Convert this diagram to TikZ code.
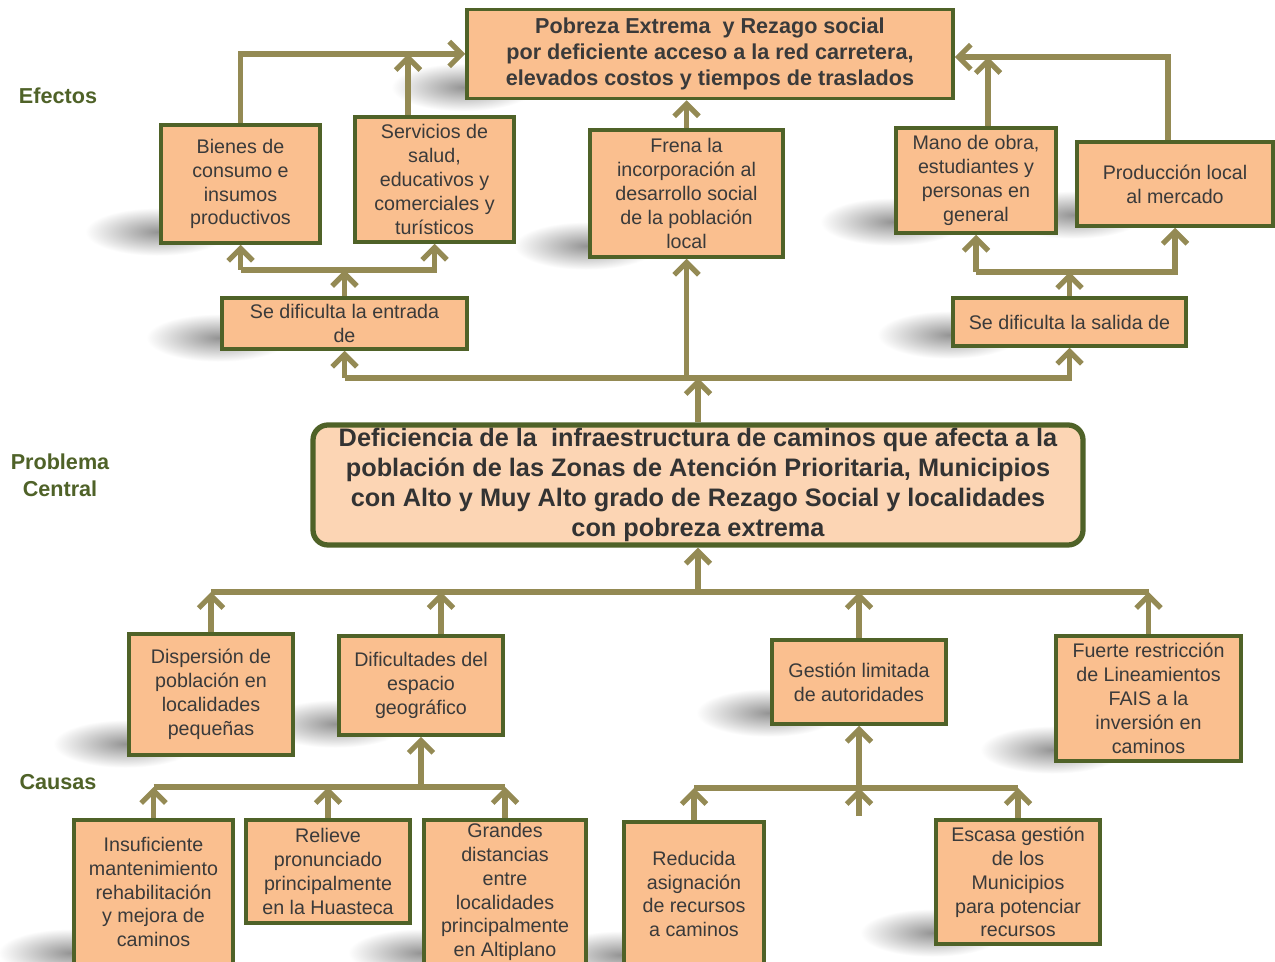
\documentclass[tikz,border=0pt]{standalone}
\usepackage{fontspec}
\setmainfont{Liberation Sans}
\usepackage{tikz}
\usetikzlibrary{arrows.meta,positioning,calc,backgrounds}
\definecolor{peach}{HTML}{FABF8F}
\definecolor{lpeach}{HTML}{FCD5B4}
\definecolor{dgreen}{HTML}{4F6228}
\definecolor{olivear}{HTML}{948A54}
\definecolor{txt}{HTML}{3A3A3A}

\begin{document}
\begin{tikzpicture}[x=0.02cm,y=-0.02cm,>={Straight Barb[length=7pt,width=14pt]},
  b/.style={draw=dgreen,line width=2pt,fill=peach,align=center,text=txt,inner sep=0pt,
    font=\fontsize{11.2}{13.6}\selectfont},
  sz/.style 2 args={minimum width=#1*0.02cm,minimum height=#2*0.02cm},
  ln/.style={draw=olivear,line width=3pt},
  ar/.style={ln,->},
  shd/.style={inner color=black!42,outer color=white},
  lab/.style={text=dgreen,font=\bfseries\fontsize{12.3}{15.5}\selectfont,align=center}]
  \useasboundingbox (0,0) rectangle (1275,962);
  % side labels
  \node[lab](lefe) at (58,96){Efectos};
  \node[lab](lpro) at (60,475){Problema\\Central};
  \node[lab](lcau) at (58,782){Causas};
  % effects
  \node[b,sz={486}{89},font=\bfseries\fontsize{12.3}{15}\selectfont](pob) at (710,54)
    {Pobreza Extrema\ \ y Rezago social\\por deficiente acceso a la red carretera,\\elevados costos y tiempos de traslados};
  \node[b,sz={159}{118}](bien) at (240.5,184){Bienes de\\consumo e\\insumos\\productivos};
  \node[b,sz={159}{125}](serv) at (434.5,179.5){Servicios de\\salud,\\educativos y\\comerciales y\\turísticos};
  \node[b,sz={193}{127}](frena) at (686.5,193.5){Frena la\\incorporación al\\desarrollo social\\de la población\\local};
  \node[b,sz={160}{105}](mano) at (976,180.5){Mano de obra,\\estudiantes y\\personas en\\general};
  \node[b,sz={196}{84}](prod) at (1175,184){Producción local\\al mercado};
  \node[b,sz={245}{51}](ent) at (344.5,323.5){Se dificulta la entrada\\de};
  \node[b,sz={233}{48}](sal) at (1069.5,322){Se dificulta la salida de};
  % central problem
  \node[b,sz={770}{120},fill=lpeach,line width=3pt,rounded corners=0.3cm,text=black!80,
    font=\bfseries\fontsize{14.4}{17.2}\selectfont](cen) at (698,485)
    {Deficiencia de la\ \ infraestructura de caminos que afecta a la\\población de las Zonas de Atención Prioritaria, Municipios\\con Alto y Muy Alto grado de Rezago Social y localidades\\con pobreza extrema};
  % causes
  \node[b,sz={164}{121}](disp) at (211,694.5){Dispersión de\\población en\\localidades\\pequeñas};
  \node[b,sz={164}{99}](difi) at (421,685.5){Dificultades del\\espacio\\geográfico};
  \node[b,sz={174}{84}](gest) at (859,682){Gestión limitada\\de autoridades};
  \node[b,sz={185}{125}](fuer) at (1148.5,698.5){Fuerte restricción\\de Lineamientos\\FAIS a la\\inversión en\\caminos};
  \node[b,sz={159}{144}](insu) at (153.5,892){Insuficiente\\mantenimiento\\rehabilitación\\y mejora de\\caminos};
  \node[b,sz={164}{103}](reli) at (328,871.5){Relieve\\pronunciado\\principalmente\\en la Huasteca};
  \node[b,sz={162}{144}](gran) at (505,892){Grandes\\distancias\\entre\\localidades\\principalmente\\en Altiplano};
  \node[b,sz={140}{144}](redu) at (694,894){Reducida\\asignación\\de recursos\\a caminos};
  \node[b,sz={164}{124}](esca) at (1018,882){Escasa gestión\\de los\\Municipios\\para potenciar\\recursos};
  % shadows
  \begin{scope}[on background layer]
   \fill[white] (0,0) rectangle (1275,962);
   \foreach \n in {pob,bien,frena,mano,prod,ent,sal,disp,difi,gest,fuer,insu,gran,redu,esca}
    \shade[shd] ($(\n.south west)+(-2,-13)$) circle[x radius=72,y radius=24];
  \end{scope}
  % bars
  \coordinate (eb) at (344.5,270);\coordinate (sb) at (1069.5,272);
  \coordinate (cb) at (698,378);\coordinate (kb) at (698,592);
  \coordinate (db) at (421,787);\coordinate (gb) at (859,788);
  \coordinate (gf) at (859,816);
  % effect arrows
  \draw[ar](bien.north) |- (pob.west);
  \draw[ar]([xshift=-0.53cm]serv.north) -- ([xshift=-0.53cm]serv.north |- pob.west);
  \draw[ar](frena.north) -- (frena.north |- pob.south);
  \draw[ar]([xshift=-0.14cm]prod.north) |- ([yshift=-0.06cm]pob.east);
  \draw[ar]([xshift=0.24cm]mano.north) -- ([xshift=0.24cm,yshift=-0.06cm]mano.north |- pob.east);
  \draw[ar](ent.north) -- (eb);
  \draw[ar](eb -| bien.south) -- (bien.south);
  \draw[ar](eb -| bien.south) -- (eb -| serv.south) -- (serv.south);
  \draw[ar](sal.north) -- (sb);
  \draw[ar](sb -| mano.south) -- (mano.south);
  \draw[ar](sb -| mano.south) -- (sb -| prod.south) -- (prod.south);
  \draw[ar](cen.north) -- (cb);
  \draw[ar](cb -| ent.south) -- (ent.south);
  \draw[ar](cb -| ent.south) -- (cb -| sal.south) -- (sal.south);
  \draw[ar](cb -| frena.south) -- (frena.south);
  % cause arrows
  \draw[ar](kb) -- (cen.south);
  \draw[ln](kb -| disp.north) -- (kb -| fuer.north);
  \draw[ar](disp.north) -- (disp.north |- kb);
  \draw[ar]([xshift=0.4cm]difi.north) -- ([xshift=0.4cm]difi.north |- kb);
  \draw[ar](gest.north) -- (gest.north |- kb);
  \draw[ar](fuer.north) -- (fuer.north |- kb);
  \draw[ar](db) -- (difi.south);
  \draw[ln](db -| insu.north) -- (db -| gran.north);
  \draw[ar](insu.north) -- (insu.north |- db);
  \draw[ar](reli.north) -- (reli.north |- db);
  \draw[ar](gran.north) -- (gran.north |- db);
  \draw[ar](gb) -- (gest.south);
  \draw[ln](gb -| redu.north) -- (gb -| esca.north);
  \draw[ar](redu.north) -- (redu.north |- gb);
  \draw[ar](gf) -- (gb);
  \draw[ar](esca.north) -- (esca.north |- gb);
\end{tikzpicture}
\end{document}
